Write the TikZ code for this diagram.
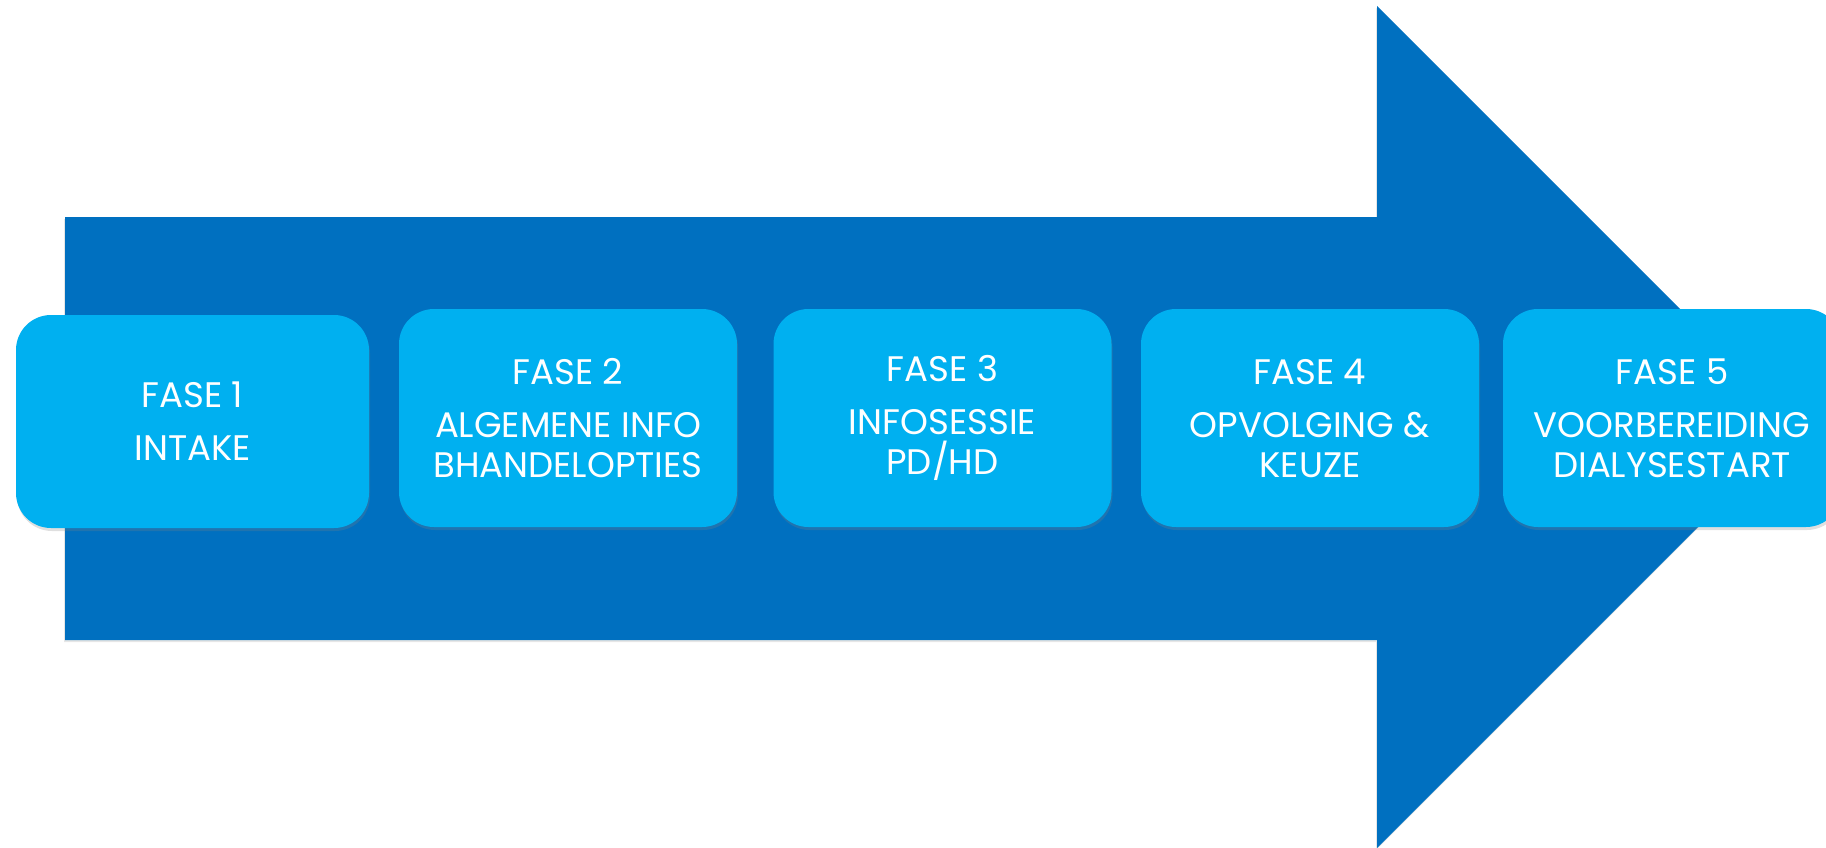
\documentclass[tikz,border=0pt]{standalone}
\usepackage{fontspec}
\setmainfont{Poppins}
\usetikzlibrary{shadows}
\definecolor{arrowblue}{HTML}{0070C0}
\definecolor{boxblue}{HTML}{00B0F0}
\begin{document}
\begin{tikzpicture}[x=1pt,y=-1pt,
  phase/.style={rounded corners=35pt, fill=boxblue, text=white, align=center,
    inner sep=0pt, minimum height=218pt, minimum width=338pt,
    font=\fontsize{35.5}{40}\selectfont,
    drop shadow={opacity=0.25, shadow xshift=1pt, shadow yshift=-3pt}},
  bigarrow/.style={fill=arrowblue, drop shadow={opacity=0.2, shadow xshift=-1pt, shadow yshift=-2pt}}]
\useasboundingbox (0,0) rectangle (1826,848);
\clip (0,0) rectangle (1826,848);
\path[bigarrow] (65,217) -- (1377,217) -- (1377,6) -- (1798,427) -- (1377,848)
  -- (1377,640) -- (65,640) -- cycle;
\node[phase, minimum width=353pt, minimum height=213pt] (f1) at (192.5,421.5) {FASE 1\\[13pt]INTAKE};
\node[phase] (f2) at (568,418) {FASE 2\\[13pt]ALGEMENE INFO\\BHANDELOPTIES};
\node[phase] (f3) at (942.5,418) {FASE 3\\[13pt]INFOSESSIE\\PD/HD};
\node[phase] (f4) at (1310,418) {FASE 4\\[13pt]OPVOLGING \&\\KEUZE};
\node[phase] (f5) at (1672,418) {FASE 5\\[13pt]VOORBEREIDING\\DIALYSESTART};
\end{tikzpicture}
\end{document}
